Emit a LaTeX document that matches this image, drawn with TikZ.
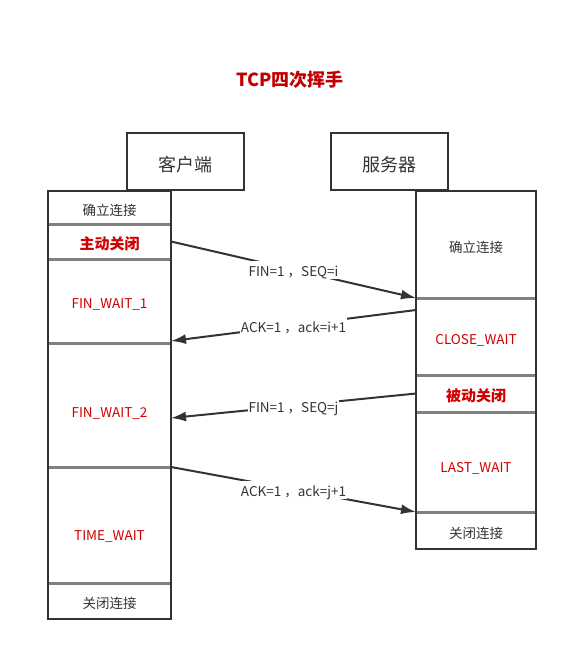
\documentclass[tikz,border=0pt]{standalone}
\usepackage{fontspec}
\setmainfont{Noto Sans CJK SC}
\usetikzlibrary{arrows.meta,positioning,calc,fit}
\definecolor{ink}{HTML}{333333}
\definecolor{stred}{HTML}{D00000}
\definecolor{ttlred}{HTML}{C00000}
\definecolor{divgray}{HTML}{808080}

\begin{document}
\begin{tikzpicture}[x=1pt, y=-1pt, font=\fontsize{13.5}{16}\selectfont, text=ink,
  cl/.style={minimum width=123pt, inner sep=0pt, outer sep=0pt, text height=15pt, text depth=0pt},
  sv/.style={minimum width=120pt, inner sep=0pt, outer sep=0pt, text height=15pt, text depth=0pt},
  st/.style={text=stred},
  low/.style={text height=#1},
  act/.style={text=stred, font=\fontsize{15}{17}\selectfont\bfseries},
  head/.style={draw=ink, line width=2pt, minimum width=117pt, minimum height=57pt, inner sep=0pt, text height=19pt, text depth=0pt, font=\fontsize{18}{20}\selectfont},
  frame/.style={draw=ink, line width=2pt, inner sep=0pt},
  sep/.style={draw=divgray, line width=3pt},
  msg/.style={-{Latex[length=15pt,width=10pt]}, draw=ink, line width=2pt},
  lbl/.style={fill=white, inner sep=1pt, text=ink, text height=15pt, text depth=1pt}]
\useasboundingbox (0,0) rectangle (568,651);
\node[text=ttlred, font=\fontsize{18}{20}\selectfont\bfseries] (title) at (290,80) {TCP四次挥手};
\node[head] (chead) at (185.5,161.5) {客户端};
\node[head] (shead) at (389.5,161.5) {服务器};
\node[cl, minimum height=33pt] (c1) at (109.5,207.5) {确立连接};
\node[cl, act, minimum height=35pt, below=0pt of c1] (c2) {主动关闭};
\node[cl, st, minimum height=84pt, below=0pt of c2] (c3) {FIN\_WAIT\_1};
\node[cl, st, low=25pt, minimum height=124pt, below=0pt of c3] (c4) {FIN\_WAIT\_2};
\node[cl, st, low=31pt, minimum height=116pt, below=0pt of c4] (c5) {TIME\_WAIT};
\node[cl, minimum height=36pt, below=0pt of c5] (c6) {关闭连接};
\node[sv, minimum height=107pt] (s1) at (476,244.5) {确立连接};
\node[sv, st, minimum height=77pt, below=0pt of s1] (s2) {CLOSE\_WAIT};
\node[sv, act, minimum height=37pt, below=0pt of s2] (s3) {被动关闭};
\node[sv, st, low=21pt, minimum height=100pt, below=0pt of s3] (s4) {LAST\_WAIT};
\node[sv, minimum height=37pt, below=0pt of s4] (s5) {关闭连接};
\foreach \n in {c1,c2,c3,c4,c5,s1,s2,s3,s4}
  \draw[sep] (\n.south west) -- (\n.south east);
\node[frame, fit=(c1)(c6)] (client) {};
\node[frame, fit=(s1)(s5)] (server) {};
\draw[msg] (c2.east) -- node[lbl]{FIN=1 ，SEQ=i} (s1.south west);
\draw[msg] ($(s2.north west)+(0,12)$) -- node[lbl]{ACK=1 ，ack=i+1} ($(c3.south east)+(0,-2)$);
\draw[msg] (s3.west) -- node[lbl]{FIN=1 ，SEQ=j} ($(c4.north east)+(0,75)$);
\draw[msg] (c4.south east) -- node[lbl]{ACK=1 ，ack=j+1} (s4.south west);
\end{tikzpicture}
\end{document}
